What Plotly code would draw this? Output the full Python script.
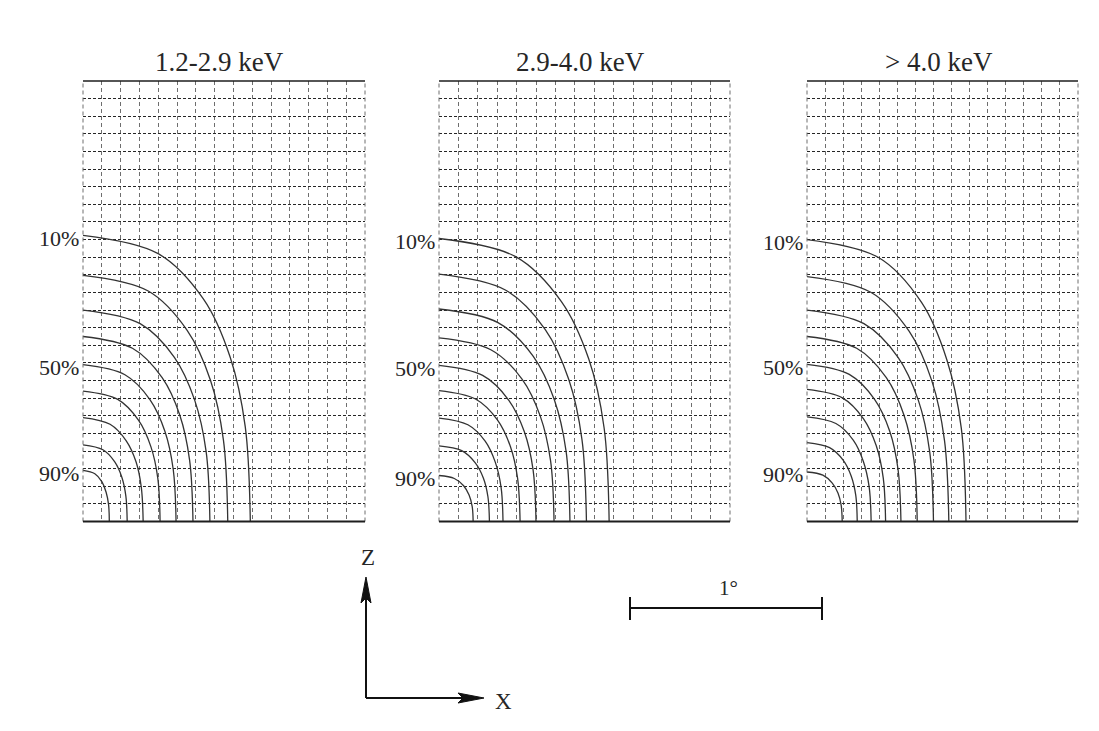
import plotly.graph_objects as go

W, H = 1099, 731

PANEL_TITLES = ["1.2-2.9 keV", "2.9-4.0 keV", "> 4.0 keV"]
LEVELS = ["10%", "20%", "30%", "40%", "50%", "60%", "70%", "80%", "90%"]
LABELED_LEVELS = ["10%", "50%", "90%"]
N_COLS = 15   # grid cells across (0.1 deg each)
N_ROWS = 25   # grid cells down

# Contour paths, one list per level, in grid units (x across, z up from the base)
P1_X = [
    [0, 4.0, 6.41, 7.83, 8.63, 8.9],
    [0, 3.47, 5.54, 6.78, 7.47, 7.7],
    [0, 3.04, 4.86, 5.94, 6.55, 6.75],
    [0, 2.63, 4.21, 5.15, 5.67, 5.85],
    [0, 2.23, 3.56, 4.36, 4.8, 4.95],
    [0, 1.85, 2.95, 3.61, 3.98, 4.1],
    [0, 1.44, 2.3, 2.82, 3.1, 3.2],
    [0, 1.06, 1.69, 2.07, 2.28, 2.35],
    [0, 0.63, 1.01, 1.23, 1.36, 1.4],
]
P1_Z = [
    [16.24, 15.2, 12.62, 9.32, 5.38, 0],
    [13.97, 13.08, 10.85, 8.02, 4.62, 0],
    [12.0, 11.23, 9.32, 6.89, 3.97, 0],
    [10.5, 9.83, 8.16, 6.03, 3.48, 0],
    [8.9, 8.33, 6.92, 5.11, 2.95, 0],
    [7.4, 6.93, 5.75, 4.25, 2.45, 0],
    [5.9, 5.52, 4.58, 3.39, 1.95, 0],
    [4.35, 4.07, 3.38, 2.5, 1.44, 0],
    [2.9, 2.71, 2.25, 1.66, 0.96, 0],
]

P2_X = [
    [0, 3.95, 6.31, 7.72, 8.51, 8.77],
    [0, 3.42, 5.47, 6.69, 7.37, 7.6],
    [0, 3.04, 4.86, 5.94, 6.55, 6.75],
    [0, 2.67, 4.27, 5.22, 5.75, 5.93],
    [0, 2.25, 3.6, 4.4, 4.85, 5.0],
    [0, 1.88, 3.01, 3.68, 4.05, 4.18],
    [0, 1.49, 2.38, 2.9, 3.2, 3.3],
    [0, 1.17, 1.87, 2.29, 2.52, 2.6],
    [0, 0.79, 1.27, 1.55, 1.71, 1.76],
]
P2_Z = [
    [16.06, 15.03, 12.48, 9.22, 5.32, 0],
    [14.04, 13.14, 10.91, 8.06, 4.65, 0],
    [12.06, 11.29, 9.37, 6.92, 3.99, 0],
    [10.42, 9.75, 8.1, 5.98, 3.45, 0],
    [8.86, 8.29, 6.88, 5.09, 2.93, 0],
    [7.43, 6.95, 5.77, 4.26, 2.46, 0],
    [5.87, 5.49, 4.56, 3.37, 1.94, 0],
    [4.29, 4.02, 3.33, 2.46, 1.42, 0],
    [2.61, 2.44, 2.03, 1.5, 0.86, 0],
]

P3_X = [
    [0, 3.96, 6.34, 7.74, 8.54, 8.8],
    [0, 3.53, 5.65, 6.91, 7.61, 7.85],
    [0, 3.15, 5.04, 6.16, 6.79, 7.0],
    [0, 2.75, 4.39, 5.37, 5.92, 6.1],
    [0, 2.34, 3.74, 4.58, 5.04, 5.2],
    [0, 1.96, 3.13, 3.83, 4.22, 4.35],
    [0, 1.6, 2.56, 3.12, 3.44, 3.55],
    [0, 1.25, 2.0, 2.45, 2.7, 2.78],
    [0, 0.88, 1.4, 1.72, 1.89, 1.95],
]
P3_Z = [
    [16.0, 14.98, 12.43, 9.18, 5.3, 0],
    [13.9, 13.01, 10.8, 7.98, 4.6, 0],
    [12.0, 11.23, 9.32, 6.89, 3.97, 0],
    [10.5, 9.83, 8.16, 6.03, 3.48, 0],
    [8.92, 8.35, 6.93, 5.12, 2.95, 0],
    [7.5, 7.02, 5.83, 4.31, 2.48, 0],
    [5.94, 5.56, 4.62, 3.41, 1.97, 0],
    [4.48, 4.19, 3.48, 2.57, 1.48, 0],
    [2.81, 2.63, 2.18, 1.61, 0.93, 0],
]

PANELS = [(P1_X, P1_Z), (P2_X, P2_Z), (P3_X, P3_Z)]

SERIF = "Liberation Serif, Times New Roman, serif"
INK = "#262626"


def px(x):
    return x / W


def py(y):
    return 1 - y / H


# panel boxes in page pixels (left, right); common top/bottom
PANEL_LR = [(83, 365), (439, 730), (807, 1078)]
TOP, BOTTOM = 81, 521.5

V_GRID = dict(color="#6e6e6e", width=1, dash="4px,3px")
H_GRID = dict(color="#262626", width=1.3, dash="3px,2px")

fig = go.Figure()
layout = dict(
    width=W, height=H,
    margin=dict(l=0, r=0, t=0, b=0),
    paper_bgcolor="white", plot_bgcolor="white",
    showlegend=False,
)
shapes = []
annotations = []

for i, (xs, zs) in enumerate(PANELS, start=1):
    sfx = "" if i == 1 else str(i)
    left, right = PANEL_LR[i - 1]
    layout[f"xaxis{sfx}"] = dict(
        domain=[px(left), px(right)], range=[0, N_COLS], anchor=f"y{sfx}",
        showgrid=True, dtick=1, tick0=0, gridcolor=V_GRID["color"],
        gridwidth=V_GRID["width"], griddash=V_GRID["dash"],
        showticklabels=False, ticks="", zeroline=False,
        showline=False, fixedrange=True,
    )
    layout[f"yaxis{sfx}"] = dict(
        domain=[py(BOTTOM), py(TOP)], range=[0, N_ROWS], anchor=f"x{sfx}",
        showgrid=True, dtick=1, tick0=0, gridcolor=H_GRID["color"],
        gridwidth=H_GRID["width"], griddash=H_GRID["dash"],
        showticklabels=False, ticks="", zeroline=False,
        showline=False, fixedrange=True,
    )
    for lvl, cx, cz in zip(LEVELS, xs, zs):
        fig.add_trace(go.Scatter(
            x=cx, y=cz, mode="lines", name=lvl,
            line=dict(color="#333333", width=1.3, shape="spline", smoothing=1.0),
            xaxis=f"x{sfx}", yaxis=f"y{sfx}", hoverinfo="skip",
        ))
        if lvl in LABELED_LEVELS:
            annotations.append(dict(
                x=0, y=cz[0], xref=f"x{sfx}", yref=f"y{sfx}", text=lvl,
                showarrow=False, xanchor="right", yanchor="middle", xshift=-2,
                yshift=-3, font=dict(family=SERIF, size=22, color=INK),
            ))
    # dashed left and right edges of the frame
    for xv in (0, 1):
        shapes.append(dict(
            type="line", xref=f"x{sfx} domain", yref=f"y{sfx} domain",
            x0=xv, x1=xv, y0=0, y1=1, line=V_GRID,
        ))
    # solid top and bottom edges of the frame
    for yv, wd in ((0, 2.0), (1, 1.6)):
        shapes.append(dict(
            type="line", xref=f"x{sfx} domain", yref=f"y{sfx} domain",
            x0=0, x1=1, y0=yv, y1=yv, line=dict(color="#1e1e1e", width=wd),
        ))
    annotations.append(dict(
        x=0.5, y=py(62), xref=f"x{sfx} domain", yref="paper",
        text=PANEL_TITLES[i - 1], showarrow=False, xshift=-4,
        xanchor="center", yanchor="middle",
        font=dict(family=SERIF, size=27, color=INK),
    ))

# orientation axes (Z up, X right)
ox, oy = 366, 698
z_tip, x_tip = 577, 484
shapes.append(dict(type="line", xref="paper", yref="paper",
                   x0=px(ox), y0=py(oy), x1=px(ox), y1=py(z_tip + 18),
                   line=dict(color="#111", width=2)))
shapes.append(dict(type="line", xref="paper", yref="paper",
                   x0=px(ox), y0=py(oy), x1=px(x_tip - 18), y1=py(oy),
                   line=dict(color="#111", width=2)))


def tri_path(points):
    return "M " + " L ".join(f"{px(a):.5f},{py(b):.5f}" for a, b in points) + " Z"


shapes.append(dict(type="path", xref="paper", yref="paper",
                   path=tri_path([(ox, z_tip), (ox - 5, z_tip + 26), (ox, z_tip + 21), (ox + 5, z_tip + 26)]),
                   fillcolor="#111", line=dict(color="#111", width=1)))
shapes.append(dict(type="path", xref="paper", yref="paper",
                   path=tri_path([(x_tip, oy), (x_tip - 26, oy - 5), (x_tip - 21, oy), (x_tip - 26, oy + 5)]),
                   fillcolor="#111", line=dict(color="#111", width=1)))
annotations.append(dict(x=px(368), y=py(557), xref="paper", yref="paper", text="Z",
                        showarrow=False, xanchor="center", yanchor="middle",
                        font=dict(family=SERIF, size=23, color=INK)))
annotations.append(dict(x=px(503), y=py(701), xref="paper", yref="paper", text="X",
                        showarrow=False, xanchor="center", yanchor="middle",
                        font=dict(family=SERIF, size=23, color=INK)))

# 1 degree scale bar
bx0, bx1, by = 630, 822, 608
shapes.append(dict(type="line", xref="paper", yref="paper",
                   x0=px(bx0), y0=py(by), x1=px(bx1), y1=py(by),
                   line=dict(color="#111", width=2)))
for bx in (bx0, bx1):
    shapes.append(dict(type="line", xref="paper", yref="paper",
                       x0=px(bx), y0=py(by - 11), x1=px(bx), y1=py(by + 12),
                       line=dict(color="#111", width=2)))
annotations.append(dict(x=px(728), y=py(588), xref="paper", yref="paper", text="1°",
                        showarrow=False, xanchor="center", yanchor="middle",
                        font=dict(family=SERIF, size=21, color=INK)))

layout["shapes"] = shapes
layout["annotations"] = annotations
fig.update_layout(**layout)
fig.write_html("out.html")
